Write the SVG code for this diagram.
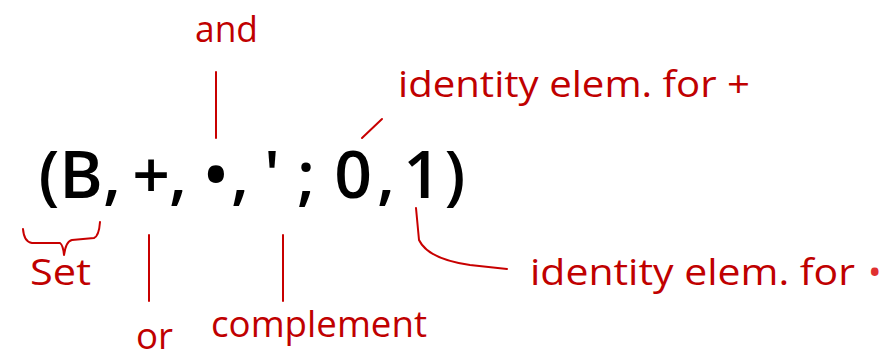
<svg xmlns="http://www.w3.org/2000/svg" width="886" height="361" viewBox="0 0 886 361">
<style>
.main{font-family:"Open Sans","DejaVu Sans",sans-serif;font-size:66px;font-weight:600;fill:#000;text-anchor:middle}
.lab{font-family:"Open Sans","DejaVu Sans",sans-serif;font-size:36px;font-weight:500;fill:#c00000}
.ln{stroke:#c80000;stroke-width:2;fill:none;stroke-linecap:round;stroke-linejoin:round}
</style>
<rect width="886" height="361" fill="#fff"/>
<g id="expression">
<text class="main" y="198"><tspan x="49">(</tspan><tspan x="81">B</tspan><tspan x="112">,</tspan><tspan x="151">+</tspan><tspan x="178">,</tspan><tspan x="216">•</tspan><tspan x="240">,</tspan><tspan x="272">'</tspan><tspan x="306">;</tspan><tspan x="353">0</tspan><tspan x="386">,</tspan><tspan x="422">1</tspan><tspan x="455">)</tspan></text>
</g>
<g id="connectors">
<line class="ln" x1="216" y1="72" x2="216" y2="138"/>
<line class="ln" x1="362" y1="138" x2="382" y2="119"/>
<path class="ln" d="M23,229 Q24,242 32,243 L60,243 Q63,245 64,255 Q66,241 72,240 L94,238 Q99,236 100,222"/>
<line class="ln" x1="149" y1="235" x2="149" y2="301"/>
<line class="ln" x1="283" y1="235" x2="283" y2="301"/>
<path class="ln" d="M416,208 L419,240 Q428,259 470,265 L507,269"/>
</g>
<g id="label-and"><text class="lab" x="195" y="42" textLength="63" lengthAdjust="spacingAndGlyphs">and</text></g>
<g id="label-id-plus"><text class="lab" x="398" y="97" textLength="352" lengthAdjust="spacingAndGlyphs">identity elem. for +</text></g>
<g id="label-set"><text class="lab" x="30" y="285" textLength="61" lengthAdjust="spacingAndGlyphs">Set</text></g>
<g id="label-or"><text class="lab" x="136" y="349" textLength="37" lengthAdjust="spacingAndGlyphs">or</text></g>
<g id="label-complement"><text class="lab" x="211" y="337" textLength="216" lengthAdjust="spacingAndGlyphs">complement</text></g>
<g id="label-id-dot"><text class="lab" x="530" y="285" textLength="325" lengthAdjust="spacingAndGlyphs">identity elem. for</text><text class="lab" x="868" y="285" style="fill:#e03030">•</text></g>
</svg>
